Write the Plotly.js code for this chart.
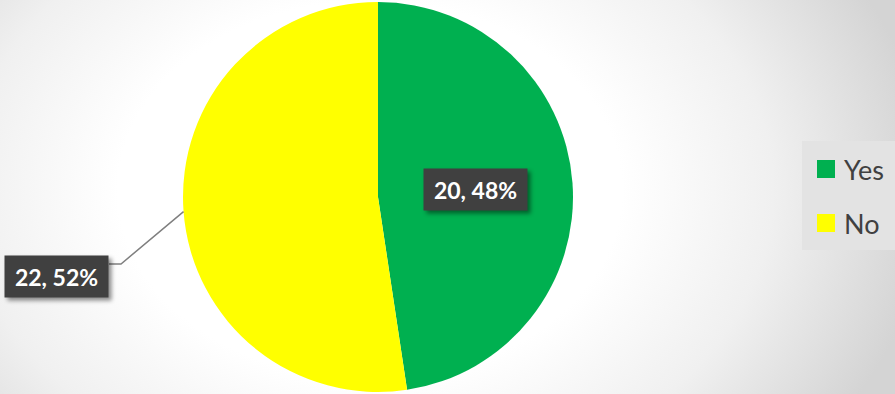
<!DOCTYPE html>
<html>
<head>
<meta charset="utf-8">
<script src="https://cdn.plot.ly/plotly-3.0.1.min.js"></script>
<style>
  html, body { margin: 0; padding: 0; }
  body {
    width: 895px; height: 394px; overflow: hidden;
    background: radial-gradient(ellipse 560px 420px at 370px 190px,
      #ffffff 0%, #ffffff 45%, #f0f0f0 72%, #d4d4d4 100%);
  }
  #chart { width: 895px; height: 394px; }
  .annotation .bg { filter: drop-shadow(3px 3px 2px rgba(0,0,0,0.45)); }
</style>
</head>
<body>
<div id="chart"></div>
<script>
// ---- data ----
const categories = ["Yes", "No"];
const values = [20, 22];
const colors = ["#00B050", "#FFFF00"];

// ---- geometry of the page (layout only) ----
const W = 895, H = 394;
const cx = 378, cy = 197, R = 195;
const px = x => x / W;
const py = y => 1 - y / H;

const total = values.reduce((a, b) => a + b, 0);
const pct = values.map(v => Math.round(100 * v / total));
const labelText = values.map((v, i) => v + ", " + pct[i] + "%");

// mid angle (clockwise from 12 o'clock) of each slice
let cum = 0;
const midAngles = values.map(v => {
  const a = (cum + v / 2) / total * 2 * Math.PI;
  cum += v;
  return a;
});
const pointAt = (a, r) => [cx + r * Math.sin(a), cy - r * Math.cos(a)];

const labelFont = { family: "Lato, 'Open Sans', sans-serif", size: 23, color: "#ffffff", weight: "bold" };
const boxStyle = { bgcolor: "#404040", width: 101, height: 39, borderpad: 1, showarrow: false,
  xref: "paper", yref: "paper", font: labelFont };

const annotations = [];
const shapes = [];

// Yes: label inside the slice at half radius
const pYes = pointAt(midAngles[0], R * 0.5);
annotations.push(Object.assign({}, boxStyle, {
  text: "<b>" + labelText[0] + "</b>", x: px(pYes[0]), y: py(pYes[1]),
  xanchor: "center", yanchor: "middle"
}));

// No: label outside with leader line
const edgeNo = pointAt(midAngles[1], R);
const boxRight = 109, boxMidY = 276.5, elbowY = 264;
annotations.push(Object.assign({}, boxStyle, {
  text: "<b>" + labelText[1] + "</b>", x: px(boxRight), y: py(boxMidY),
  xanchor: "right", yanchor: "middle"
}));
shapes.push({
  type: "path", xref: "paper", yref: "paper",
  path: "M" + px(boxRight) + "," + py(elbowY) + " L" + px(boxRight + 12) + "," + py(elbowY) +
        " L" + px(edgeNo[0]) + "," + py(edgeNo[1]),
  line: { color: "#7f7f7f", width: 1.5 }
});

// ---- custom legend ----
shapes.push({ type: "rect", xref: "paper", yref: "paper", layer: "below",
  x0: px(802), x1: px(895), y0: py(141), y1: py(250),
  fillcolor: "#e3e3e3", line: { width: 0 } });
categories.forEach((c, i) => {
  const yc = 169 + i * 54;
  shapes.push({ type: "rect", xref: "paper", yref: "paper",
    x0: px(817), x1: px(835), y0: py(yc - 9), y1: py(yc + 9),
    fillcolor: colors[i], line: { width: 0 } });
  annotations.push({ text: c, xref: "paper", yref: "paper", x: px(842), y: py(yc),
    xanchor: "left", yanchor: "middle", showarrow: false,
    font: { family: "Lato, 'Open Sans', sans-serif", size: 27, color: "#404040" } });
});

const trace = {
  type: "pie",
  labels: categories,
  values: values,
  marker: { colors: colors, line: { width: 0 } },
  sort: false,
  direction: "clockwise",
  rotation: 0,
  textinfo: "none",
  hoverinfo: "label+value+percent",
  showlegend: false,
  domain: { x: [px(cx - R), px(cx + R)], y: [py(cy + R), py(cy - R)] }
};

const layout = {
  width: W, height: H,
  margin: { l: 0, r: 0, t: 0, b: 0 },
  paper_bgcolor: "rgba(0,0,0,0)",
  plot_bgcolor: "rgba(0,0,0,0)",
  showlegend: false,
  annotations: annotations,
  shapes: shapes
};

Plotly.newPlot("chart", [trace], layout, { displayModeBar: false, staticPlot: true });
</script>
</body>
</html>
